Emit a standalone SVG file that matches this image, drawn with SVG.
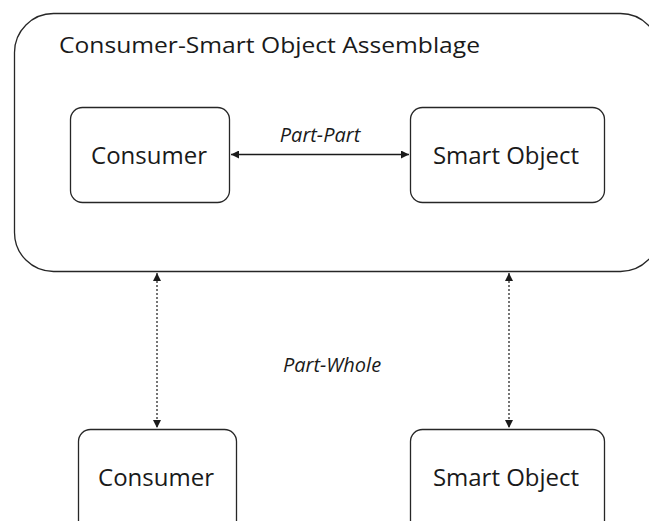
<svg xmlns="http://www.w3.org/2000/svg" width="649" height="521" viewBox="0 0 649 521">
<defs>
<style>
.box{fill:#fff;stroke:#262626;stroke-width:1.3}
.t{font-family:"Open Sans","Noto Sans",sans-serif;fill:#1a1a1a}
.lbl{font-family:"Open Sans","Noto Sans",sans-serif;font-style:italic;fill:#1a1a1a;font-size:20px}
.ln{stroke:#1a1a1a;stroke-width:1.5;fill:none}
.dl{stroke:#1a1a1a;stroke-width:1.2;fill:none;stroke-dasharray:2 2}
</style>
<marker id="ah" viewBox="0 0 10 10" refX="10" refY="5" markerWidth="8" markerHeight="8" markerUnits="userSpaceOnUse" orient="auto-start-reverse">
<path d="M0,0 L10,5 L0,10 z" fill="#1a1a1a"/>
</marker>
</defs>
<rect width="649" height="521" fill="#fff"/>
<g id="assemblage">
<rect class="box" x="14.5" y="13.5" width="645" height="258" rx="39" ry="39"/>
<text class="t" x="59" y="53" font-size="22" textLength="421" lengthAdjust="spacingAndGlyphs">Consumer-Smart Object Assemblage</text>
</g>
<g id="consumer-inner">
<rect class="box" x="70.5" y="107.5" width="159" height="95" rx="12" ry="12"/>
<text class="t" x="149" y="164" font-size="24" text-anchor="middle">Consumer</text>
</g>
<g id="smart-inner">
<rect class="box" x="410.5" y="107.5" width="194" height="95" rx="12" ry="12"/>
<text class="t" x="506" y="164" font-size="24" text-anchor="middle">Smart Object</text>
</g>
<g id="consumer-outer">
<rect class="box" x="78.5" y="429.5" width="158" height="110" rx="12" ry="12"/>
<text class="t" x="156" y="486" font-size="24" text-anchor="middle">Consumer</text>
</g>
<g id="smart-outer">
<rect class="box" x="410.5" y="429.5" width="194" height="110" rx="12" ry="12"/>
<text class="t" x="506" y="486" font-size="24" text-anchor="middle">Smart Object</text>
</g>
<g id="connectors">
<line class="ln" x1="231" y1="154.5" x2="409" y2="154.5" marker-start="url(#ah)" marker-end="url(#ah)"/>
<text class="lbl" x="320" y="142" text-anchor="middle">Part-Part</text>
<line class="dl" x1="157" y1="273" x2="157" y2="428" marker-start="url(#ah)" marker-end="url(#ah)"/>
<line class="dl" x1="509" y1="273" x2="509" y2="428" marker-start="url(#ah)" marker-end="url(#ah)"/>
<text class="lbl" x="332" y="372" text-anchor="middle">Part-Whole</text>
</g>
</svg>
